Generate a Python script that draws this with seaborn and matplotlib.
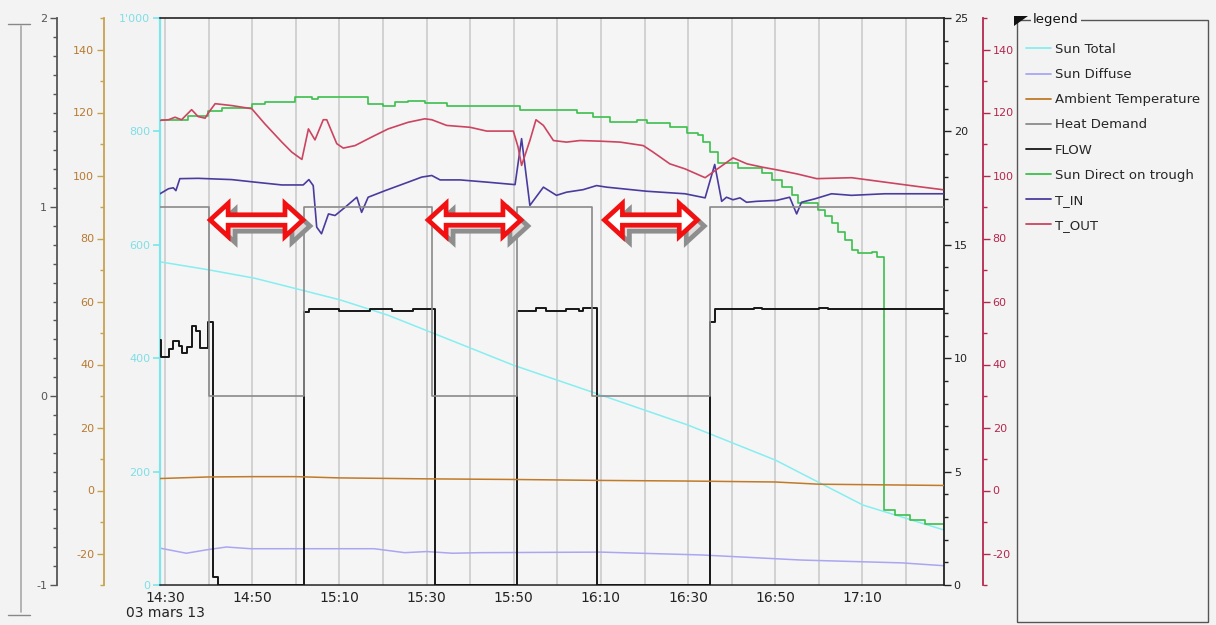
import numpy as np
import pandas as pd
import matplotlib
matplotlib.use("Agg")
import matplotlib.pyplot as plt
import matplotlib.dates as mdates
import matplotlib.ticker as mticker
from matplotlib.lines import Line2D
from matplotlib.patches import Polygon, Rectangle
from matplotlib.transforms import IdentityTransform
import seaborn as sns

# ---------------- data (minutes after 14:30, 03 mars 13) ----------------
T0 = pd.Timestamp("2013-03-03 14:30")

sun_total_min = [-1.15, 9.9, 20.6, 31.4, 40.1, 51.1, 59.6, 79.8, 100, 120, 140.1, 160.1, 178.7]
sun_total_val = [570, 556, 541, 520, 503, 476, 450, 388, 335, 282, 220, 141, 97]

sun_diffuse_min = [-1.15, 4.9, 9.5, 14.1, 19.6, 35, 48, 55, 60, 66, 72, 100, 123, 146, 169, 178.7]
sun_diffuse_val = [65, 56, 62, 67, 64, 64, 64, 57, 59, 56, 57, 58, 53, 44, 39, 34]

ambient_min = [-1.15, 10, 20, 30, 40, 60, 80, 100, 120, 140, 150, 178.7]
ambient_val = [3.8, 4.3, 4.4, 4.4, 4.0, 3.7, 3.5, 3.2, 3.0, 2.7, 2.0, 1.6]

heat_min = [-1.15, 10.1, 31.9, 61.2, 80.8, 97.9, 125.0, 178.7]
heat_val = [1, 0, 1, 0, 1, 0, 1, 1]

flow_min = [-1.15, -0.9, 0.9, 1.9, 3.2, 4.0, 5.1, 6.1, 7.0, 8.0, 9.9, 11.1, 12.2,
            31.9, 33.0, 40, 47, 52, 57, 61.9,
            80.8, 85, 87.5, 92, 95, 96, 99.0,
            125.0, 126.1, 135, 137, 150, 152, 178.7]
flow_val = [10.8, 10.04, 10.4, 10.77, 10.54, 10.23, 10.5, 11.42, 11.21, 10.44, 11.61, 0.37, 0,
            12.02, 12.15, 12.1, 12.15, 12.1, 12.15, 0,
            12.1, 12.2, 12.1, 12.15, 12.1, 12.2, 0,
            11.6, 12.15, 12.2, 12.15, 12.2, 12.15, 12.15]

direct_min = [-1.15, 5.3, 9.9, 13.1, 20.0, 22.9, 29.8, 33.7, 35.1, 46.6, 50.0, 52.8, 55.7,
              59.6, 64.7, 81.4, 94.5, 98.2, 102.1, 108.3, 110.6, 115.8, 119.7, 122.2,
              123.4, 125.0, 126.8, 131.4, 136.9, 139.2, 141.5, 143.8, 145.2, 149.8, 151.4,
              153.0, 154.4, 156.0, 157.6, 158.9, 162.2, 163.3, 164.9, 165.0, 167.4, 170.9,
              174.3, 178.7]
direct_val = [820, 827, 836, 841, 848, 852, 860, 858, 860, 848, 845, 852, 854,
              850, 845, 838, 832, 825, 817, 820, 814, 808, 797, 794,
              782, 764, 744, 735, 727, 714, 702, 688, 674, 661, 650,
              638, 623, 608, 591, 585, 588, 579, 576, 132, 124, 115,
              108, 97]

t_in_min = [-1.15, 0.8, 1.9, 2.5, 3.4, 7.6, 15.3, 20.6, 26.8, 31.7, 33.0, 34.0, 34.8,
            35.9, 37.5, 39.0, 41.3, 44.0, 45.1, 46.6, 50.5, 55.8, 58.9, 61.2, 63.1,
            67.7, 73.8, 80.3, 81.8, 83.7, 86.8, 89.8, 92.1, 95.9, 99.0, 101.3, 110.5,
            119.3, 123.9, 126.1, 127.7, 128.8, 130.3, 131.9, 133.4, 135.7, 140.3,
            143.3, 144.9, 146.0, 149.1, 152.9, 157.5, 165.1, 178.7]
t_in_val = [94.2, 95.8, 96.1, 95.2, 99.0, 99.1, 98.7, 97.9, 97.0, 97.0, 98.7, 96.8, 83.6,
            81.5, 87.8, 87.3, 89.9, 93.1, 88.3, 93.1, 95.2, 97.9, 99.5, 100.0, 98.6,
            98.6, 97.9, 97.1, 111.7, 90.5, 96.3, 93.7, 94.7, 95.5, 96.8, 96.3, 95.0,
            94.2, 92.9, 103.5, 91.8, 93.1, 92.3, 92.9, 91.5, 91.8, 92.1,
            93.1, 87.8, 91.5, 92.6, 94.2, 93.7, 94.2, 94.2]

t_out_min = [-1.15, 0.8, 2.3, 3.8, 6.1, 7.6, 9.2, 9.9, 11.5, 15.3, 19.9, 22.9, 26.8,
             29.1, 31.4, 32.9, 34.4, 36.3, 37.1, 39.4, 40.9, 43.6, 47.4, 51.2, 55.8,
             59.6, 61.2, 64.6, 70.0, 73.8, 79.9, 81.0, 81.8, 83.7, 85.1, 86.8, 89.1,
             92.1, 95.2, 99.8, 104.4, 109.7, 112.0, 115.8, 119.3, 123.9, 130.3, 133.5,
             137.2, 141.1, 145.0, 149.5, 157.5, 165.1, 172.7, 178.4]
t_out_val = [117.5, 117.7, 118.5, 117.7, 120.9, 118.7, 118.2, 119.8, 122.8, 122.2, 121.2,
             116.4, 110.6, 107.4, 105.1, 114.8, 111.3, 117.7, 117.7, 110.1, 108.7, 109.5,
             112.2, 114.8, 116.9, 118.0, 117.7, 115.9, 115.3, 114.1, 114.1, 109.0, 103.2,
             111.1, 117.7, 115.9, 111.1, 110.6, 111.1, 110.9, 110.6, 109.5, 107.4, 103.7,
             102.1, 99.3, 105.6, 103.7, 102.6, 101.6, 100.5, 99.0, 99.3, 97.9, 96.5, 95.5]

series_labels = ["Sun Total", "Sun Diffuse", "Ambient Temperature", "Heat Demand",
                 "FLOW", "Sun Direct on trough", "T_IN", "T_OUT"]
series_colors = ["#86eef0", "#aaa6f2", "#c07a28", "#8a8a8a",
                 "#161616", "#3cc04c", "#4a3c9e", "#cc4460"]

x_tick_min = [0, 20, 40, 60, 80, 100, 120, 140, 160]
x_tick_labels = ["14:30\n03 mars 13", "14:50", "15:10", "15:30", "15:50",
                 "16:10", "16:30", "16:50", "17:10"]
x_range_min = [-1.15, 178.7]


def ts(m):
    return T0 + pd.to_timedelta(np.asarray(m, dtype=float), unit="m")


# ---------------- style ----------------
sns.set_theme(style="white")
BG = "#f3f3f3"
plt.rcParams["font.family"] = ["DejaVu Sans"]
plt.rcParams["axes.unicode_minus"] = False
plt.rcParams["axes.facecolor"] = BG
plt.rcParams["figure.facecolor"] = BG

W, H = 1216, 625
fig = plt.figure(figsize=(W / 100, H / 100), dpi=100)
L, R, TOP, BOT = 160, 944, 18, 585
ax = fig.add_axes([L / W, (H - BOT) / H, (R - L) / W, (BOT - TOP) / H])
ax.set_facecolor("#f5f5f5")

ax_flow = ax.twinx()
ax_tout = ax.twinx()
ax_amb = ax.twinx()
ax_hd = ax.twinx()

def frac(px):
    return (px - L) / (R - L)

# ---------------- draw series ----------------
kw = dict(legend=False, sort=False, estimator=None)
sns.lineplot(x=ts(sun_total_min), y=sun_total_val, ax=ax, color=series_colors[0], lw=1.1, **kw)
sns.lineplot(x=ts(sun_diffuse_min), y=sun_diffuse_val, ax=ax, color=series_colors[1], lw=1.1, **kw)
sns.lineplot(x=ts(direct_min), y=direct_val, ax=ax, color=series_colors[5], lw=1.2,
             drawstyle="steps-post", **kw)
sns.lineplot(x=ts(ambient_min), y=ambient_val, ax=ax_amb, color=series_colors[2], lw=1.1, **kw)
sns.lineplot(x=ts(heat_min), y=heat_val, ax=ax_hd, color=series_colors[3], lw=1.2,
             drawstyle="steps-post", **kw)
sns.lineplot(x=ts(flow_min), y=flow_val, ax=ax_flow, color=series_colors[4], lw=1.4,
             drawstyle="steps-post", **kw)
sns.lineplot(x=ts(t_in_min), y=t_in_val, ax=ax_tout, color=series_colors[6], lw=1.2, **kw)
sns.lineplot(x=ts(t_out_min), y=t_out_val, ax=ax_tout, color=series_colors[7], lw=1.2, **kw)

# ---------------- x axis ----------------
ax.set_xlim(ts(x_range_min)[0], ts(x_range_min)[1])
ax.xaxis.set_major_locator(mticker.FixedLocator(mdates.date2num(ts(x_tick_min))))
ax.xaxis.set_major_formatter(mticker.FixedFormatter(x_tick_labels))
ax.xaxis.set_minor_locator(mdates.MinuteLocator(byminute=range(0, 60, 10)))
ax.tick_params(axis="x", which="both", length=0, labelsize=10, colors="#222222", pad=4)
for lab in ax.get_xticklabels():
    lab.set_linespacing(1.1)
ax.grid(which="both", axis="x", color="#c8c8c8", lw=1.1)
ax.grid(False, axis="y")
ax.set_xlabel("")
ax.set_ylabel("")

# ---------------- y axes ----------------
def style_axis(a, side, pos, color, lab_color, lim, major, minor, fmt=None, spine_color=None):
    for s in a.spines.values():
        s.set_visible(False)
    sp = a.spines[side]
    sp.set_visible(True)
    sp.set_position(("axes", pos))
    sp.set_color(spine_color or color)
    sp.set_linewidth(1.3)
    a.yaxis.set_ticks_position(side)
    a.yaxis.set_label_position(side)
    a.set_ylim(*lim)
    a.yaxis.set_major_locator(mticker.MultipleLocator(major))
    if minor:
        a.yaxis.set_minor_locator(mticker.MultipleLocator(minor))
    if fmt:
        a.yaxis.set_major_formatter(mticker.FuncFormatter(fmt))
    a.tick_params(axis="y", which="major", length=5, width=1, color=color,
                  labelcolor=lab_color, labelsize=8, pad=2, direction="out")
    a.tick_params(axis="y", which="minor", length=3, width=1, color=color, direction="out")
    a.set_ylabel("")

# main (cyan) axis
ax.spines["top"].set_color("#111111")
ax.spines["bottom"].set_color("#222222")
ax.spines["right"].set_visible(False)
ax.spines["left"].set_color("#7ee6ea")
ax.spines["left"].set_linewidth(1.6)
ax.set_ylim(0, 1000)
ax.yaxis.set_major_locator(mticker.MultipleLocator(200))
ax.yaxis.set_major_formatter(mticker.FuncFormatter(lambda v, p: f"{int(round(v)):,}".replace(",", "'")))
ax.tick_params(axis="y", which="major", length=5, color="#7ee6ea", labelcolor="#7fdfe6",
               labelsize=8, pad=2, left=True)
for s in ["top", "bottom"]:
    ax.spines[s].set_linewidth(1.1)

style_axis(ax_flow, "right", 1.0, "#222222", "#222222", (0, 25), 5, 1)
style_axis(ax_tout, "right", frac(983), "#b4284e", "#b4284e", (-30, 150), 20, 10)
style_axis(ax_amb, "left", frac(104), "#c8a24e", "#b87a30", (-30, 150), 20, 10,
           spine_color="#c8a24e")
style_axis(ax_hd, "left", frac(57), "#555555", "#555555", (-1, 2), 1, 0.1)

# ---------------- arrows (annotating heat-demand-off periods) ----------------
fig.canvas.draw()
off_starts = [heat_min[i] for i in range(1, len(heat_min)) if heat_val[i] == 0]
off_ends = [heat_min[i + 1] for i in range(1, len(heat_min) - 1) if heat_val[i] == 0]
arrow_len = 21.3
y_c = H - 220

def dbl_arrow(xl, xr, yc, Lh=18, Hh=16.5, hh=5.2):
    return [(xl, yc), (xl + Lh, yc + Hh), (xl + Lh, yc + hh), (xr - Lh, yc + hh),
            (xr - Lh, yc + Hh), (xr, yc), (xr - Lh, yc - Hh), (xr - Lh, yc - hh),
            (xl + Lh, yc - hh), (xl + Lh, yc - Hh)]

for s0, e0 in zip(off_starts, off_ends):
    c = (s0 + e0) / 2
    xl = ax.transData.transform((mdates.date2num(ts([c - arrow_len / 2])[0]), 0))[0]
    xr = ax.transData.transform((mdates.date2num(ts([c + arrow_len / 2])[0]), 0))[0]
    sh = Polygon([(x + 7, y - 6) for x, y in dbl_arrow(xl, xr, y_c)], closed=True,
                 facecolor="#dcdcdc", edgecolor="#8e8e8e", lw=3.4, joinstyle="miter",
                 transform=IdentityTransform())
    fig.add_artist(sh)
    ar = Polygon(dbl_arrow(xl, xr, y_c), closed=True, facecolor="white",
                 edgecolor="#f21010", lw=3.4, joinstyle="miter", transform=IdentityTransform())
    fig.add_artist(ar)

# ---------------- legend ----------------
handles = [Line2D([], [], color=c, lw=1.3) for c in series_colors]
fig.legend(handles, series_labels, loc="upper left",
           bbox_to_anchor=(1026 / W, 1 - 43 / H), frameon=False, fontsize=9.5,
           handlelength=1.9, handletextpad=0.3, labelspacing=0.92, borderpad=0,
           borderaxespad=0)
fig.add_artist(Rectangle((1017 / W, 3 / H), 191 / W, 602 / H, transform=fig.transFigure,
                         fill=False, edgecolor="#555555", lw=1.0))
fig.text(1033 / W, 1 - 20 / H, "legend", fontsize=9.5, color="#111111", va="center",
         ha="left", bbox=dict(facecolor=BG, edgecolor="none", pad=1.5))
fig.add_artist(Polygon([(1014, H - 16), (1028, H - 16), (1014, H - 26)], closed=True,
                       facecolor="#111111", edgecolor="none", transform=IdentityTransform()))

# scrollbar-like decoration on far left
fig.add_artist(Line2D([21 / W, 21 / W], [1 - 26 / H, 1 - 612 / H], transform=fig.transFigure,
                      color="#a8a8a8", lw=1.2))
fig.add_artist(Line2D([8 / W, 30 / W], [1 - 24 / H, 1 - 24 / H], transform=fig.transFigure,
                      color="#888888", lw=1.0))
fig.add_artist(Line2D([8 / W, 30 / W], [1 - 615 / H, 1 - 615 / H], transform=fig.transFigure,
                      color="#888888", lw=1.0))

fig.savefig("out.png", dpi=100, facecolor=BG)
